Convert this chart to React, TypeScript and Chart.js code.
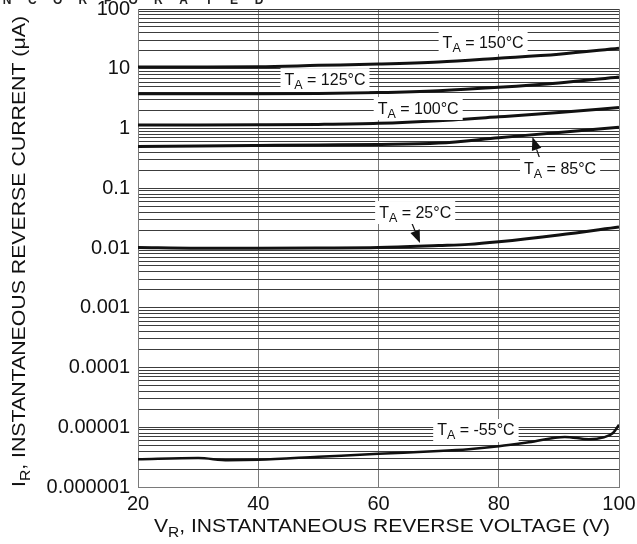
import React, { useEffect, useRef } from 'react';
import { Chart, registerables } from 'chart.js';

Chart.register(...registerables);

const FONT = '"Liberation Sans", Arial, Helvetica, sans-serif';

// ---- axis ticks ----
const xTickValues = [20, 40, 60, 80, 100];
const yDecadeValues = [1e-6, 1e-5, 1e-4, 1e-3, 1e-2, 1e-1, 1, 10, 100];
const yDecadeLabels = ['0.000001', '0.00001', '0.0001', '0.001', '0.01', '0.1', '1', '10', '100'];
const yMinorMultipliers = [1, 2, 3, 4, 5, 6, 7, 8, 9];

// ---- series (VR in V, IR in uA) ----
const vCommon = [20, 30, 40, 50, 60, 70, 80, 90, 100];
const i150 = [10.7, 10.7, 10.8, 11.4, 12.0, 13.0, 15.0, 17.5, 22.0];
const i125 = [3.8, 3.8, 3.8, 3.85, 4.0, 4.3, 4.9, 5.8, 7.3];
const i100 = [1.14, 1.14, 1.15, 1.17, 1.22, 1.35, 1.57, 1.85, 2.25];
const i85 = [0.5, 0.51, 0.52, 0.53, 0.54, 0.57, 0.7, 0.86, 1.05];
const v25 = [20, 30, 40, 50, 60, 70, 75, 80, 90, 100];
const i25 = [0.0102, 0.0099, 0.0099, 0.01, 0.0102, 0.011, 0.0115, 0.0127, 0.0165, 0.0225];
const vm55 = [20, 30, 35, 40, 50, 60, 70, 75, 80, 85, 91, 95, 97.5, 99, 100];
const im55 = [2.9e-6, 3.05e-6, 2.8e-6, 2.85e-6, 3.2e-6, 3.6e-6, 4.0e-6, 4.3e-6, 4.8e-6, 5.6e-6, 6.9e-6, 6.3e-6, 6.8e-6, 8.0e-6, 1.1e-5];

// ---- curve labels (anchored in data units) ----
const labelTemps = ['150', '125', '100', '85', '25', '-55'];
const labelV = [77.4, 51.1, 66.6, 90.2, 66.1, 76.2];
const labelI = [28, 6.7, 2.2, 0.218, 0.04, 9.0e-6];

// ---- pointer arrows (data units) ----
const arrowFromV = [86.9, 65.2];
const arrowFromI = [0.297, 0.0318];
const arrowToV = [85.6, 66.9];
const arrowToI = [0.72, 0.0121];

type Part = { text: string; size: number; dy: number };

function richWidth(ctx: CanvasRenderingContext2D, parts: Part[]) {
  let w = 0;
  for (const p of parts) {
    ctx.font = `${p.size}px ${FONT}`;
    w += ctx.measureText(p.text).width;
  }
  return w;
}

function drawRich(
  ctx: CanvasRenderingContext2D,
  parts: Part[],
  cx: number,
  baseline: number,
  targetWidth?: number
) {
  const w = richWidth(ctx, parts);
  const k = targetWidth ? targetWidth / w : 1;
  ctx.save();
  ctx.translate(cx, baseline);
  ctx.scale(k, 1);
  let x = -w / 2;
  ctx.textAlign = 'left';
  ctx.textBaseline = 'alphabetic';
  for (const p of parts) {
    ctx.font = `${p.size}px ${FONT}`;
    ctx.fillText(p.text, x, p.dy);
    x += ctx.measureText(p.text).width;
  }
  ctx.restore();
  return w * k;
}

const overlayPlugin = {
  id: 'overlay',
  afterDatasetsDraw(chart: any) {
    const ctx: CanvasRenderingContext2D = chart.ctx;
    const xs = chart.scales.x;
    const ys = chart.scales.y;
    ctx.save();
    // arrows
    for (let i = 0; i < arrowFromV.length; i++) {
      const x0 = xs.getPixelForValue(arrowFromV[i]);
      const y0 = ys.getPixelForValue(arrowFromI[i]);
      const x1 = xs.getPixelForValue(arrowToV[i]);
      const y1 = ys.getPixelForValue(arrowToI[i]);
      const ang = Math.atan2(y1 - y0, x1 - x0);
      const headLen = 13;
      const headW = 5;
      const bx = x1 - headLen * Math.cos(ang);
      const by = y1 - headLen * Math.sin(ang);
      ctx.strokeStyle = '#111';
      ctx.lineWidth = 1.2;
      ctx.beginPath();
      ctx.moveTo(x0, y0);
      ctx.lineTo(bx, by);
      ctx.stroke();
      ctx.fillStyle = '#111';
      ctx.beginPath();
      ctx.moveTo(x1, y1);
      ctx.lineTo(bx + headW * Math.sin(ang), by - headW * Math.cos(ang));
      ctx.lineTo(bx - headW * Math.sin(ang), by + headW * Math.cos(ang));
      ctx.closePath();
      ctx.fill();
    }
    // labels
    for (let i = 0; i < labelTemps.length; i++) {
      const cx = xs.getPixelForValue(labelV[i]);
      const cy = ys.getPixelForValue(labelI[i]);
      const parts: Part[] = [
        { text: 'T', size: 16, dy: 0 },
        { text: 'A', size: 12.5, dy: 4 },
        { text: ` = ${labelTemps[i]}°C`, size: 16, dy: 0 },
      ];
      const w = richWidth(ctx, parts);
      ctx.fillStyle = '#ffffff';
      ctx.fillRect(cx - w / 2 - 4, cy - 11, w + 8, 23);
      ctx.fillStyle = '#111';
      drawRich(ctx, parts, cx, cy + 5.5);
    }
    ctx.restore();
  },
  afterDraw(chart: any) {
    const ctx: CanvasRenderingContext2D = chart.ctx;
    ctx.save();
    ctx.fillStyle = '#111';
    // x axis title
    drawRich(
      ctx,
      [
        { text: 'V', size: 19, dy: 0 },
        { text: 'R', size: 14, dy: 5 },
        { text: ', INSTANTANEOUS REVERSE VOLTAGE (V)', size: 19, dy: 0 },
      ],
      382,
      532,
      456
    );
    // y axis title
    ctx.save();
    ctx.translate(25, 251.5);
    ctx.rotate(-Math.PI / 2);
    drawRich(
      ctx,
      [
        { text: 'I', size: 19, dy: 0 },
        { text: 'R', size: 14, dy: 5 },
        { text: ', INSTANTANEOUS REVERSE CURRENT (μA)', size: 19, dy: 0 },
      ],
      0,
      0,
      471
    );
    ctx.restore();
    // cropped logo text at top
    const logo = 'INCORPORATED';
    ctx.font = `bold 12px ${FONT}`;
    ctx.textAlign = 'center';
    ctx.textBaseline = 'alphabetic';
    ctx.fillStyle = '#222';
    for (let i = 0; i < logo.length; i++) {
      ctx.fillText(logo[i], -18 + i * 25.2, 4);
    }
    ctx.restore();
  },
};

function series(xv: number[], yv: number[]) {
  return xv.map((x, i) => ({ x, y: yv[i] }));
}

export default function App() {
  const ref = useRef<HTMLCanvasElement | null>(null);

  useEffect(() => {
    if (!ref.current) return;
    const lineDs = (label: string, data: any[], width = 3) => ({
      label,
      data,
      borderColor: '#111',
      borderWidth: width,
      pointRadius: 0,
      fill: false,
      cubicInterpolationMode: 'monotone' as const,
    });
    const yTicks: number[] = [];
    for (let d = 0; d < yDecadeValues.length - 1; d++) {
      for (const m of yMinorMultipliers) yTicks.push(yDecadeValues[d] * m);
    }
    yTicks.push(yDecadeValues[yDecadeValues.length - 1]);

    const chart = new Chart(ref.current, {
      type: 'line',
      data: {
        datasets: [
          lineDs('150', series(vCommon, i150)),
          lineDs('125', series(vCommon, i125)),
          lineDs('100', series(vCommon, i100)),
          lineDs('85', series(vCommon, i85)),
          lineDs('25', series(v25, i25)),
          lineDs('-55', series(vm55, im55), 2.5),
        ],
      },
      options: {
        responsive: false,
        animation: false,
        devicePixelRatio: 1,
        layout: { padding: { left: 0, top: 9, right: 18, bottom: 0 } },
        plugins: {
          legend: { display: false },
          tooltip: { enabled: false },
        },
        scales: {
          x: {
            type: 'linear',
            min: 20,
            max: 100,
            afterBuildTicks: (s: any) => {
              s.ticks = xTickValues.map((v) => ({ value: v }));
            },
            afterFit: (s: any) => {
              s.height = 57;
              s.paddingLeft = 0;
              s.paddingRight = 0;
            },
            ticks: {
              autoSkip: false,
              maxRotation: 0,
              padding: 5,
              color: '#111',
              font: { family: FONT, size: 20 },
            },
            grid: { color: '#7a7a7a', lineWidth: 1, drawTicks: false },
            border: { display: true, color: '#7a7a7a', width: 1 },
          },
          y: {
            type: 'logarithmic',
            min: 1e-6,
            max: 100,
            afterBuildTicks: (s: any) => {
              s.ticks = yTicks.map((v) => ({ value: v }));
            },
            afterFit: (s: any) => {
              s.width = 138;
              s.paddingTop = 0;
              s.paddingBottom = 0;
            },
            ticks: {
              autoSkip: false,
              padding: 8,
              color: '#111',
              font: { family: FONT, size: 20 },
              callback: (value: any) => {
                const idx = yDecadeValues.findIndex((d) => Math.abs(d - value) / d < 1e-6);
                return idx >= 0 ? yDecadeLabels[idx] : '';
              },
            },
            grid: { color: '#3c3c3c', lineWidth: 1, drawTicks: false },
            border: { display: true, color: '#7a7a7a', width: 1 },
          },
        },
      },
      plugins: [overlayPlugin],
    });
    return () => chart.destroy();
  }, []);

  return (
    <div style={{ position: 'fixed', left: 0, top: 0, width: 637, height: 544, background: '#fff' }}>
      <canvas ref={ref} width={637} height={544} style={{ display: 'block' }} />
    </div>
  );
}
